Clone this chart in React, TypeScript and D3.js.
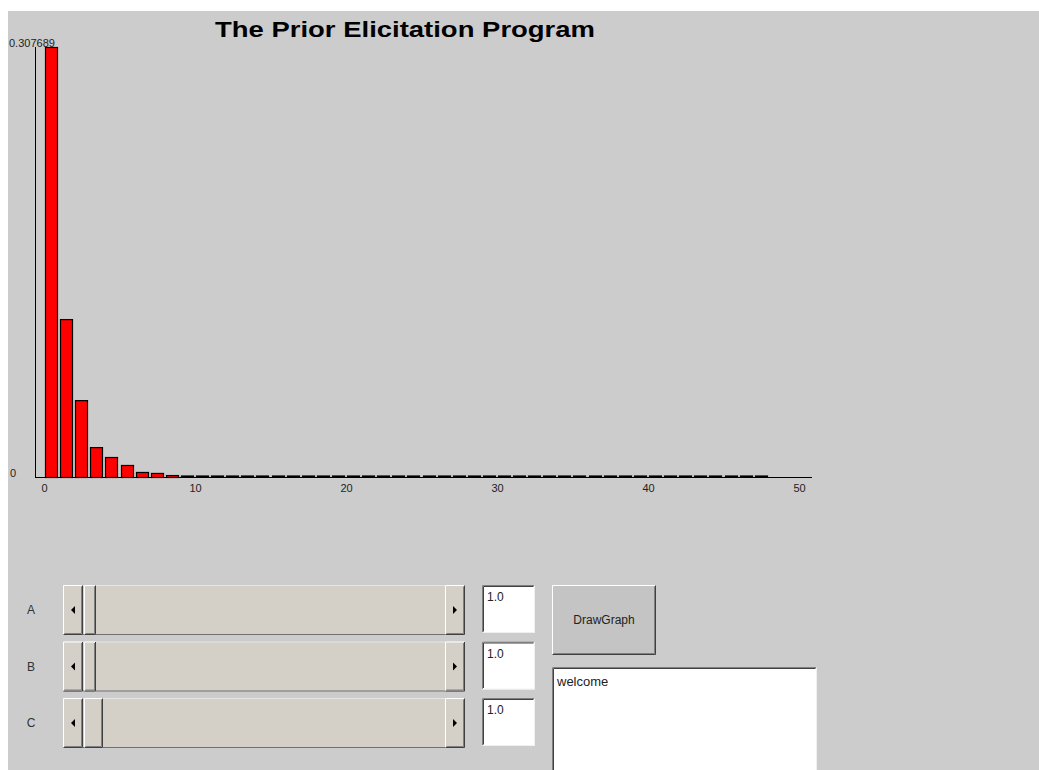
import React, { useEffect, useRef } from 'react';
import * as d3 from 'd3';

// probability mass for k = 0..47
const probs = [
  0.307689, 0.113, 0.055, 0.0214, 0.0143, 0.0086, 0.0036, 0.0029, 0.0014, 0.0007,
  0, 0, 0, 0, 0, 0, 0, 0, 0, 0,
  0, 0, 0, 0, 0, 0, 0, 0, 0, 0,
  0, 0, 0, 0, 0, 0, 0, 0, 0, 0,
  0, 0, 0, 0, 0, 0, 0, 0,
];
const xTicks = [0, 10, 20, 30, 40, 50];
const yMax = 0.307689;
const yLabels = ['0', '0.307689'];

const paramNames = ['A', 'B', 'C'];
const paramValues = ['1.0', '1.0', '1.0'];
const thumbWidths = [12, 12, 19];

const FONT = '"Liberation Sans", Arial, sans-serif';
const FACE = '#d4d0c8';

function Raised({ x, y, w, h, fill = FACE }: { x: number; y: number; w: number; h: number; fill?: string }) {
  return (
    <g>
      <rect x={x} y={y} width={w} height={h} fill={fill} />
      <path d={`M${x + 0.5},${y + h - 0.5}V${y + 0.5}H${x + w - 0.5}`} fill="none" stroke="#ffffff" />
      <path d={`M${x + 0.5},${y + h - 0.5}H${x + w - 0.5}V${y + 0.5}`} fill="none" stroke="#404040" />
      <path d={`M${x + 1.5},${y + h - 1.5}H${x + w - 1.5}V${y + 1.5}`} fill="none" stroke="#808080" />
    </g>
  );
}

function Sunken({ x, y, w, h }: { x: number; y: number; w: number; h: number }) {
  return (
    <g>
      <rect x={x} y={y} width={w} height={h} fill="#ffffff" />
      <path d={`M${x + 0.5},${y + h - 0.5}V${y + 0.5}H${x + w - 0.5}`} fill="none" stroke="#808080" />
      <path d={`M${x + 1.5},${y + h - 1.5}V${y + 1.5}H${x + w - 1.5}`} fill="none" stroke="#404040" />
      <path d={`M${x + 0.5},${y + h - 0.5}H${x + w - 0.5}V${y + 0.5}`} fill="none" stroke="#f0f0f0" />
    </g>
  );
}

function Slider({ y, thumbW }: { y: number; thumbW: number }) {
  const x0 = 63;
  const x1 = 465;
  const h = 50;
  const btn = 20;
  return (
    <g>
      <rect x={x0} y={y} width={x1 - x0} height={h} fill={FACE} />
      <line x1={x0} x2={x1} y1={y + 0.5} y2={y + 0.5} stroke="#e8e4e0" />
      <line x1={x0} x2={x1} y1={y + h - 0.5} y2={y + h - 0.5} stroke="#707070" />
      <Raised x={x0} y={y} w={btn} h={h} />
      <path d={`M${x0 + 8},${y + h / 2}l4,-4v8z`} fill="#000" />
      <Raised x={x0 + btn + 1} y={y} w={thumbW} h={h} />
      <Raised x={x1 - btn} y={y} w={btn} h={h} />
      <path d={`M${x1 - 8},${y + h / 2}l-4,-4v8z`} fill="#000" />
    </g>
  );
}

export default function App() {
  const chartRef = useRef<SVGGElement | null>(null);

  useEffect(() => {
    if (!chartRef.current) return;
    const g = d3.select(chartRef.current);
    g.selectAll('*').remove();

    const baseY = 477;
    const topY = 47;
    const x = d3.scaleLinear().domain([0, 50]).range([48, 803]);
    const y = d3.scaleLinear().domain([0, yMax]).range([baseY, topY]);

    // axes lines
    g.append('line')
      .attr('x1', 35.5).attr('x2', 35.5)
      .attr('y1', topY).attr('y2', baseY + 1)
      .attr('stroke', '#000');
    g.append('line')
      .attr('x1', 35).attr('x2', 812)
      .attr('y1', baseY + 0.5).attr('y2', baseY + 0.5)
      .attr('stroke', '#000');

    // bars (empty ones still get their outline, like the applet)
    g.selectAll('rect.bar')
      .data(probs)
      .join('rect')
      .attr('class', 'bar')
      .attr('x', (_, i) => Math.round(x(i)) - 2.5)
      .attr('y', d => Math.min(y(d) + 0.5, baseY - 1))
      .attr('width', 12)
      .attr('height', d => Math.max(1, baseY - y(d)))
      .attr('fill', '#ff0000')
      .attr('stroke', '#000')
      .attr('stroke-width', 1.2);

    // x labels
    const xAxis = d3.axisBottom(x).tickValues(xTicks).tickSize(0).tickPadding(0);
    const ax = g.append('g')
      .attr('transform', `translate(-4,${baseY + 7})`)
      .call(xAxis);
    ax.select('.domain').remove();
    ax.selectAll('text')
      .attr('font-family', FONT)
      .attr('font-size', 11)
      .attr('fill', '#222');

    // y labels
    g.selectAll('text.ylab')
      .data(yLabels)
      .join('text')
      .attr('class', 'ylab')
      .attr('x', (_, i) => (i === 0 ? 10 : 9))
      .attr('y', d => y(+d) + (+d === 0 ? 0 : 0))
      .attr('font-family', FONT)
      .attr('font-size', 11)
      .attr('fill', '#222')
      .text(d => d);
  }, []);

  return (
    <div style={{ position: 'absolute', left: 0, top: 0 }}>
      <svg width={1039} height={770} style={{ display: 'block' }}>
        <rect x={0} y={0} width={1039} height={770} fill="#ffffff" />
        <rect x={8} y={11} width={1031} height={759} fill="#cccccc" />
        <text
          x={405}
          y={37}
          textAnchor="middle"
          fontFamily={FONT}
          fontWeight="bold"
          fontSize={22}
          textLength={380}
          lengthAdjust="spacingAndGlyphs"
          fill="#000"
        >
          The Prior Elicitation Program
        </text>
        <g ref={chartRef} />

        {paramNames.map((name, i) => {
          const top = 585 + i * 56.5;
          return (
            <g key={name}>
              <text x={31} y={top + 29} textAnchor="middle" fontFamily={FONT} fontSize={12} fill="#333">
                {name}
              </text>
              <Slider y={top} thumbW={thumbWidths[i]} />
              <Sunken x={482} y={top} w={53} h={48} />
              <text x={487} y={top + 16} fontFamily={FONT} fontSize={12} fill="#222">
                {paramValues[i]}
              </text>
            </g>
          );
        })}

        <Raised x={552} y={585} w={104} h={70} fill="#c4c4c4" />
        <text x={604} y={624} textAnchor="middle" fontFamily={FONT} fontSize={12} fill="#222">
          DrawGraph
        </text>

        <Sunken x={552} y={667} w={265} h={110} />
        <text x={557} y={686} fontFamily={FONT} fontSize={13} fill="#222">
          welcome
        </text>
      </svg>
    </div>
  );
}
